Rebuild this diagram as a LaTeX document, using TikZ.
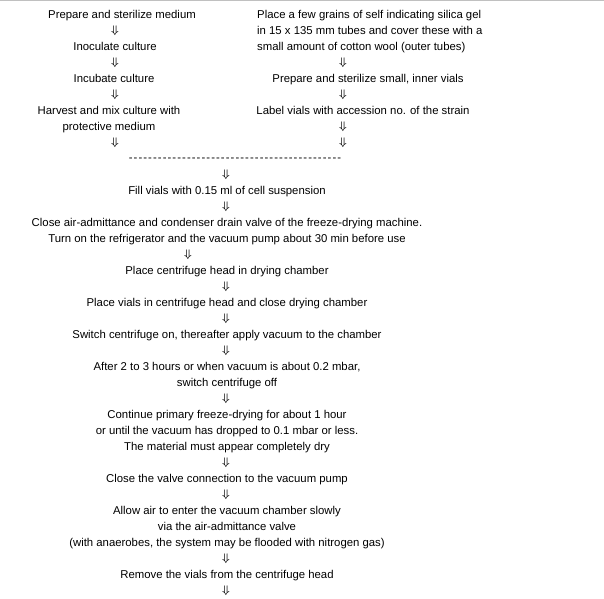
\documentclass[tikz,border=0pt]{standalone}
\usepackage{fontspec}
\setmainfont{Liberation Sans}
\usepackage{graphicx}
\usepackage{bm}
\definecolor{toprule}{RGB}{192,192,192}
\newcommand\fsz{\fontsize{11.35}{16}\selectfont}
\newcommand\hy{\hbox to 4.85pt{\hss-\hss}}
\newcommand\dn{$\bm{\Downarrow}$}
\begin{document}
\begin{tikzpicture}[x=1pt,y=-1pt,
  txt/.style={inner sep=0pt, font=\fsz, align=center, anchor=base},
  arr/.style={inner sep=0pt, font=\fsz, anchor=center}]
\useasboundingbox (0,0) rectangle (604,598);
\fill[white] (0,0) rectangle (604,598);
\draw[line width=1pt, toprule] (0,0.5) -- (604,0.5);
% left column
\node[txt] (l0) at (122,18) {Prepare and sterilize medium};
\node[arr] (la1) at (115,31) {\dn};
\node[txt] (l1) at (115,50) {Inoculate culture};
\node[arr] (la2) at (115,63) {\dn};
\node[txt] (l2) at (114,82) {Incubate culture};
\node[arr] (la3) at (115,95) {\dn};
\node[txt] (l3) at (109,130) {Harvest and mix culture with\\protective medium};
\node[arr] (la4) at (115,143) {\dn};
% right column
\node[txt, align=left, anchor=base west] (r0) at (257,50) {Place a few grains of self indicating silica gel\\in 15 x 135 mm tubes and cover these with a\\small amount of cotton wool (outer tubes)};
\node[arr] (ra1) at (343,63) {\dn};
\node[txt] (r1) at (368,82) {Prepare and sterilize small, inner vials};
\node[arr] (ra2) at (343,95) {\dn};
\node[txt] (r2) at (363,114) {Label vials with accession no. of the strain};
\node[arr] (ra3) at (343,127) {\dn};
\node[arr] (ra4) at (343,143) {\dn};
% join
\node[txt] (dash) at (235,161) {\hy\hy\hy\hy\hy\hy\hy\hy\hy\hy\hy\hy\hy\hy\hy\hy\hy\hy\hy\hy\hy\hy\hy\hy\hy\hy\hy\hy\hy\hy\hy\hy\hy\hy\hy\hy\hy\hy\hy\hy\hy\hy\hy\hy};
\node[arr] (ma0) at (226,175) {\dn};
\node[txt] (m1) at (227,194) {Fill vials with 0.15 ml of cell suspension};
\node[arr] (ma1) at (226,207) {\dn};
\node[txt] (m2) at (227,242) {Close air-admittance and condenser drain valve of the freeze-drying machine.\\Turn on the refrigerator and the vacuum pump about 30 min before use};
\node[arr] (ma2) at (188,255) {\dn};
\node[txt] (m3) at (227,274) {Place centrifuge head in drying chamber};
\node[arr] (ma3) at (226,287) {\dn};
\node[txt] (m4) at (227,306) {Place vials in centrifuge head and close drying chamber};
\node[arr] (ma4) at (226,319) {\dn};
\node[txt] (m5) at (227,338) {Switch centrifuge on, thereafter apply vacuum to the chamber};
\node[arr] (ma5) at (226,351) {\dn};
\node[txt] (m6) at (227,386) {After 2 to 3 hours or when vacuum is about 0.2 mbar,\\switch centrifuge off};
\node[arr] (ma6) at (226,399) {\dn};
\node[txt] (m7) at (227,450) {Continue primary freeze-drying for about 1 hour\\or until the vacuum has dropped to 0.1 mbar or less.\\The material must appear completely dry};
\node[arr] (ma7) at (226,463) {\dn};
\node[txt] (m8) at (227,482) {Close the valve connection to the vacuum pump};
\node[arr] (ma8) at (226,495) {\dn};
\node[txt] (m9) at (227,546) {Allow air to enter the vacuum chamber slowly\\via the air-admittance valve\\(with anaerobes, the system may be flooded with nitrogen gas)};
\node[arr] (ma9) at (226,559) {\dn};
\node[txt] (m10) at (227,578) {Remove the vials from the centrifuge head};
\node[arr] (ma10) at (226,591) {\dn};
\end{tikzpicture}
\end{document}
